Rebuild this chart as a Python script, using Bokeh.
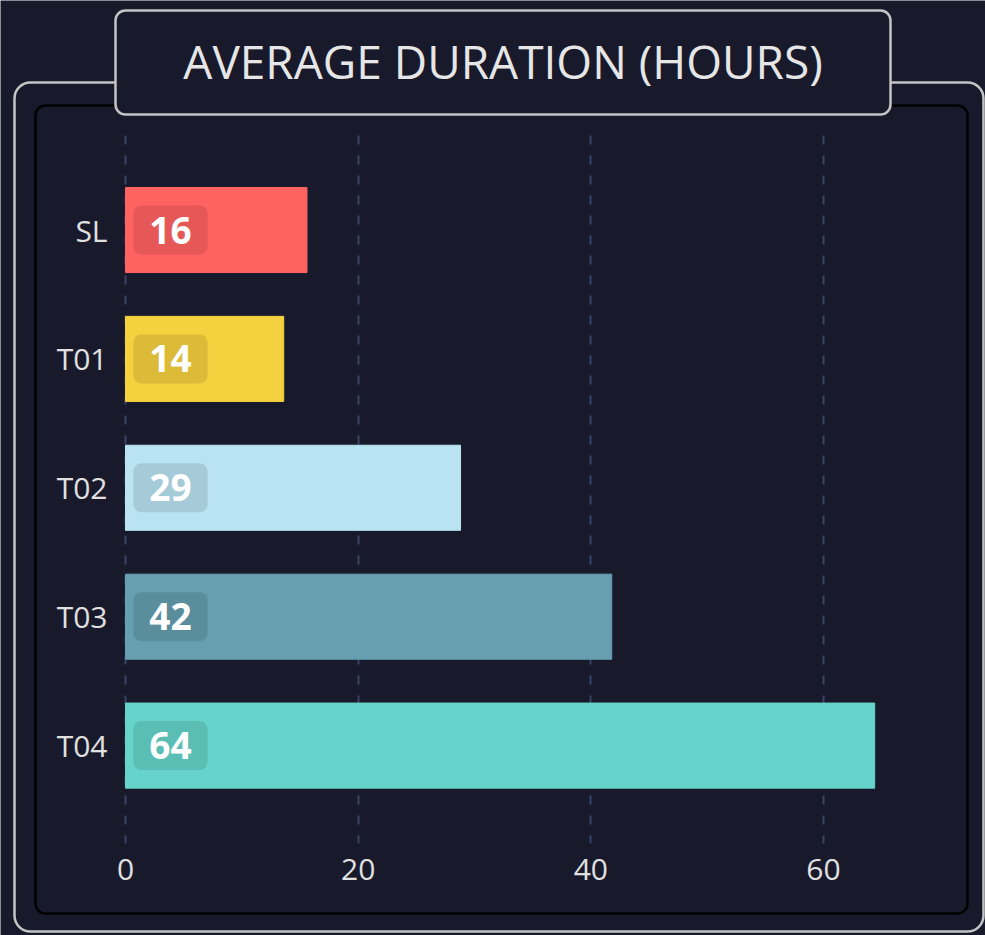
from bokeh.plotting import figure
from bokeh.models import Range1d, FixedTicker, ColumnDataSource, Label
from bokeh.core.properties import value
from bokeh.embed import file_html
from bokeh.resources import INLINE

# ---- data ----
categories = ["SL", "T01", "T02", "T03", "T04"]
hours = [15.6, 13.6, 28.8, 41.8, 64.4]
bar_colors = ["#ff6361", "#f5d13f", "#b9e3f1", "#669faf", "#66d4ca"]
x_ticks = [0, 20, 40, 60]

# ---- layout / style constants (canvas pixels) ----
BG = "#181a2b"
FONT = "Open Sans"
W, H = 985, 935
X0_PX, PX_PER_UNIT = 125, 11.633     # pixel of value 0, pixels per hour
C0_PX, ROW_PX = 229.5, 128.9         # centre of first category row, row pitch
PLOT_TOP_PX, PLOT_BOTTOM_PX = 135, 840

pos = list(range(len(categories)))
labels = [str(int(round(v))) for v in hours]
src = ColumnDataSource(dict(pos=pos, hours=hours, color=bar_colors, label=labels,
                            zero=[0] * len(categories)))


def yval(px):
    return (px - C0_PX) / ROW_PX


p = figure(width=W, height=H, output_backend="svg", toolbar_location=None, title=None,
           x_range=Range1d(-X0_PX / PX_PER_UNIT, (W - X0_PX) / PX_PER_UNIT),
           y_range=Range1d(yval(H), yval(0)),
           min_border=0, min_border_left=0, min_border_right=0, min_border_top=0, min_border_bottom=0,
           background_fill_color=BG, border_fill_color=BG, outline_line_color=None)
p.extra_x_ranges = {"px": Range1d(0, W)}
p.extra_y_ranges = {"px": Range1d(H, 0)}

# decorative panels (in canvas-pixel coordinates)
panels = dict(left=[14, 35, 115], right=[983, 967, 890], top=[82, 105, 10], bottom=[931, 913, 114],
              line=["#c4c4c4", "#000000", "#c4c4c4"], fill=[None, None, BG],
              alpha=[0, 0, 1], radius=[16, 10, 10])
for i in range(3):
    p.quad(left=panels["left"][i], right=panels["right"][i], top=panels["top"][i],
           bottom=panels["bottom"][i], x_range_name="px", y_range_name="px",
           line_color=panels["line"][i], line_width=2.5, fill_color=panels["fill"][i] or BG,
           fill_alpha=panels["alpha"][i], border_radius=panels["radius"][i])

p.add_layout(Label(x=502.5, y=60, x_range_name="px", y_range_name="px",
                   text="AVERAGE DURATION (HOURS)", text_align="center", text_baseline="middle",
                   text_font=FONT, text_font_size="46px", text_color="#e6e6e6"))

p.hbar(y="pos", left=0, right="hours", height=0.66, color="color", source=src)

p.text(x="zero", y="pos", text="label", source=src, x_offset=45,
       text_align="center", text_baseline="middle",
       text_font=value(FONT), text_font_style="bold", text_font_size="37px", text_color="white",
       background_fill_color="black", background_fill_alpha=0.1, border_radius=8,
       padding=dict(left=16, right=16, top=11, bottom=11))

# axes drawn inside the full-canvas frame
xa, ya = p.xaxis[0], p.yaxis[0]
xa.ticker = FixedTicker(ticks=x_ticks)
xa.fixed_location = yval(PLOT_BOTTOM_PX)
ya.ticker = FixedTicker(ticks=pos)
ya.major_label_overrides = {i: c for i, c in zip(pos, categories)}
ya.fixed_location = 0
for ax in (xa, ya):
    ax.axis_line_color = None
    ax.major_tick_line_color = None
    ax.minor_tick_line_color = None
    ax.major_label_text_font = FONT
    ax.major_label_text_font_size = "30px"
    ax.major_label_text_color = "#e0e0e0"
xa.major_label_standoff = 12
ya.major_label_standoff = 12

g = p.xgrid[0]
g.ticker = xa.ticker
g.grid_line_color = "#3a4266"
g.grid_line_dash = "9 11"
g.grid_line_width = 2
try:
    g.cross_bounds = (yval(PLOT_TOP_PX), yval(PLOT_BOTTOM_PX + 3))
except AttributeError:
    g.grid_line_color = None
    p.segment(x0=x_ticks, x1=x_ticks, y0=yval(PLOT_TOP_PX), y1=yval(PLOT_BOTTOM_PX + 3),
              line_color="#3a4266", line_dash="9 11", line_width=2, level="underlay")
p.ygrid.grid_line_color = None

open("out.html", "w").write(file_html(p, INLINE))
